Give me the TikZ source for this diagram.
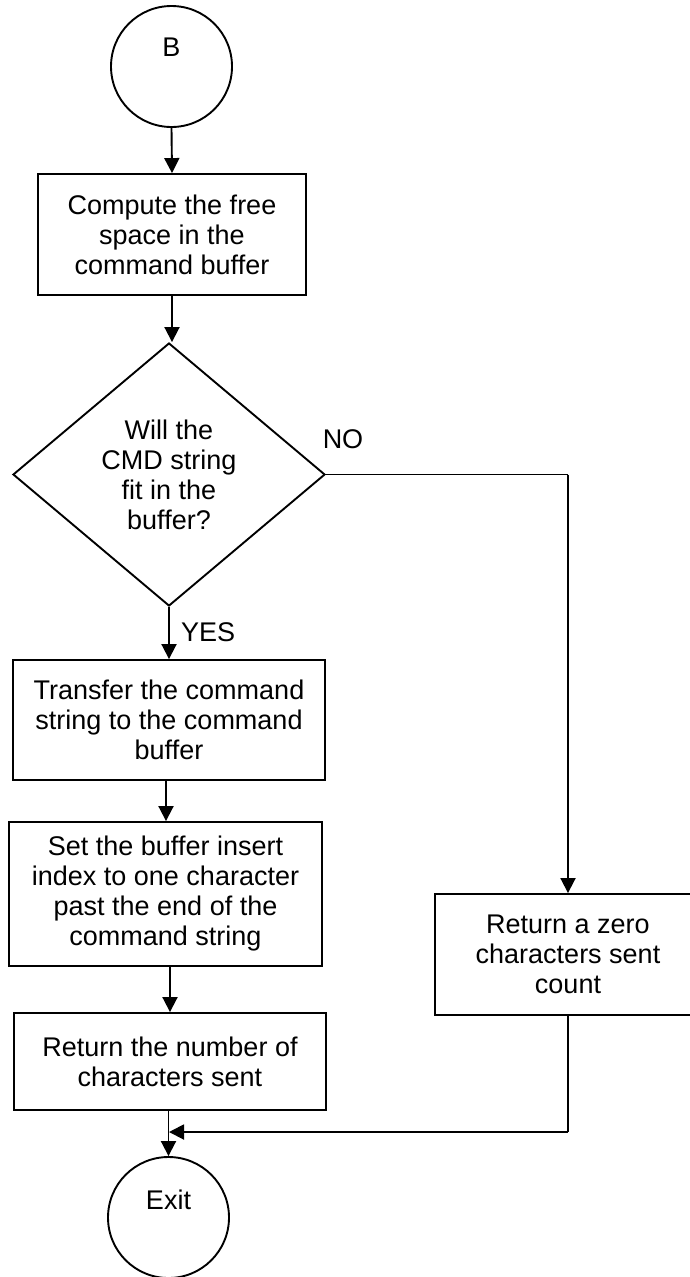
\documentclass[tikz,border=0pt]{standalone}
\usepackage{fontspec}
\setmainfont{Liberation Sans}
\usetikzlibrary{shapes.geometric,arrows.meta}
\begin{document}
\begin{tikzpicture}[x=1pt,y=-1pt,
  every node/.style={font=\fontsize{27}{30}\selectfont, inner sep=0pt, align=center},
  line/.style={line width=1.9pt, draw=black},
  arr/.style={line, -{Triangle[length=15pt,width=15pt]}},
  box/.style={draw, line width=1.9pt, rectangle},
  term/.style={draw, line width=1.9pt, circle, minimum size=121pt},
  decision/.style={draw, line width=1.9pt, diamond, minimum width=312pt, minimum height=263pt}
]
\clip (0,0) rectangle (690,1277);
% terminals
\node[term] (B) at (171.5,66.5) {};
\node (Btext) at (171.5,47) {B};
% process 1
\node[box, minimum width=268pt, minimum height=121pt] (compute) at (172,234.5) {Compute the free\\space in the\\command buffer};
% decision
\node[decision] (fit) at (169,474.5) {Will the\\CMD string\\fit in the\\buffer?};
% left column
\node[box, minimum width=312pt, minimum height=120pt] (transfer) at (169,720) {Transfer the command\\string to the command\\buffer};
\node[box, minimum width=313pt, minimum height=144pt] (setidx) at (165.5,894) {Set the buffer insert\\index to one character\\past the end of the\\command string};
\node[box, minimum width=312pt, minimum height=97pt] (retnum) at (170,1061.5) {Return the number of\\characters sent};
% right column
\node[box, minimum width=266pt, minimum height=121pt] (retzero) at (568,954.5) {Return a zero\\characters sent\\count};
% exit
\node[term] (exit) at (168.5,1217.5) {};
\node (exittext) at (168.5,1200) {Exit};
% labels
\node (no) at (343,439) {NO};
\node[anchor=west] (yes) at (181,632) {YES};
% connectors
\coordinate (noturn) at (568,474.5);
\coordinate (merge) at (568,1132);
\coordinate (join) at (169,1132);
\draw[arr] (B.south) -- (compute.north);
\draw[arr] (compute.south) -- (compute.south |- fit.north);
\draw[arr] (fit.south) -- (fit.south |- transfer.north);
\draw[arr] (transfer.south -| 166,0) -- (166,0 |- setidx.north);
\draw[arr] (setidx.south -| retnum.north) -- (retnum.north);
\draw[arr] (retnum.south -| exit.north) -- (exit.north);
\draw[line] (fit.east) -- (noturn);
\draw[arr] (noturn) -- (retzero.north);
\draw[line] (retzero.south) -- (merge);
\draw[arr] (merge) -- (join);
\end{tikzpicture}
\end{document}
